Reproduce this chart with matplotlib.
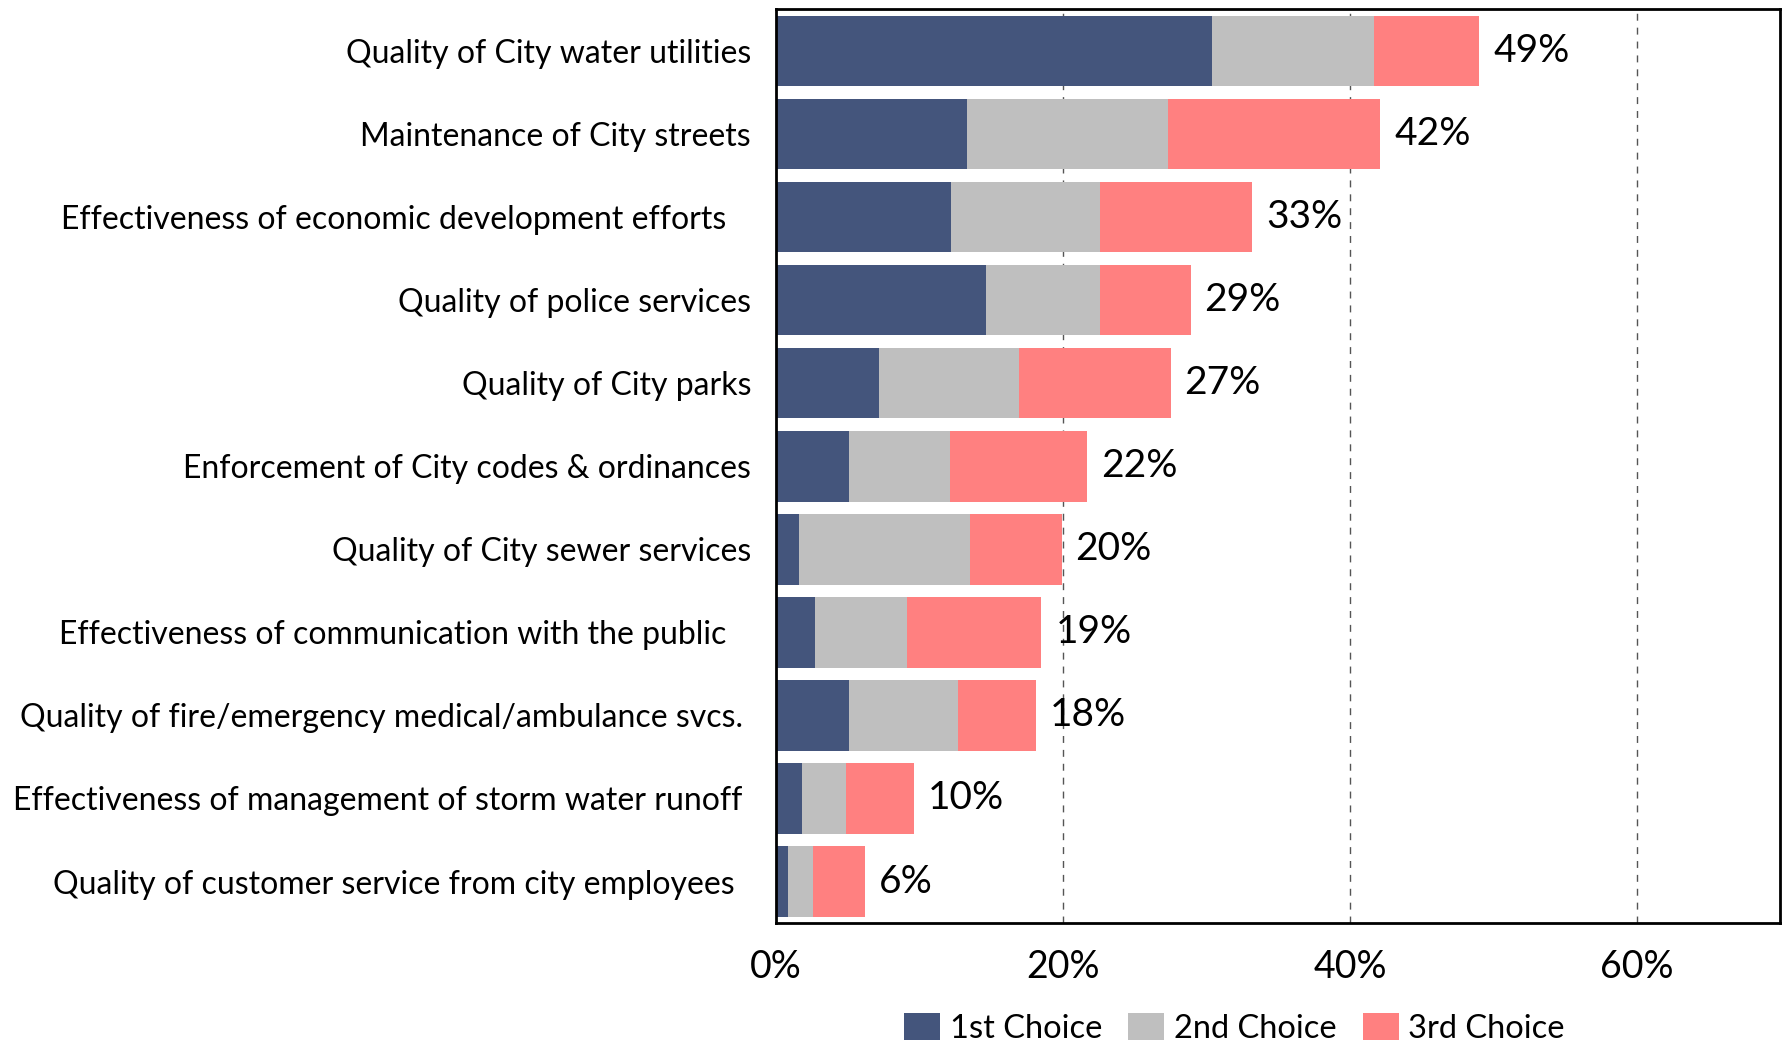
import matplotlib
matplotlib.use("Agg")
import matplotlib.pyplot as plt
import numpy as np

plt.rcParams['font.family'] = ['Lato', 'DejaVu Sans']

categories = [
    "Quality of City water utilities",
    "Maintenance of City streets",
    "Effectiveness of economic development efforts",
    "Quality of police services",
    "Quality of City parks",
    "Enforcement of City codes & ordinances",
    "Quality of City sewer services",
    "Effectiveness of communication with the public",
    "Quality of fire/emergency medical/ambulance svcs.",
    "Effectiveness of management of storm water runoff",
    "Quality of customer service from city employees",
]
first_choice = [30.4, 13.3, 12.2, 14.6, 7.2, 5.1, 1.6, 2.7, 5.1, 1.8, 0.8]
second_choice = [11.3, 14.0, 10.4, 8.0, 9.7, 7.0, 11.9, 6.4, 7.6, 3.1, 1.8]
third_choice = [7.3, 14.8, 10.6, 6.3, 10.6, 9.6, 6.4, 9.4, 5.4, 4.7, 3.6]
total_labels = ["49%", "42%", "33%", "29%", "27%", "22%", "20%", "19%", "18%", "10%", "6%"]
series_names = ["1st Choice", "2nd Choice", "3rd Choice"]
x_ticks = [0, 20, 40, 60]

# styling
colors = ["#44557C", "#BFBFBF", "#FF8080"]
label_pads = [18, 18, 36, 18, 18, 18, 18, 36, 24, 24, 30]

fig = plt.figure(figsize=(17.84, 10.43), dpi=100)
ax = fig.add_axes([0.435, 0.115, 0.563, 0.876])

y = np.arange(len(categories))
left = np.zeros(len(categories))
containers = []
for vals, name, c in zip([first_choice, second_choice, third_choice], series_names, colors):
    bars = ax.barh(y, vals, left=left, height=0.85, color=c, label=name, zorder=2)
    containers.append(bars)
    left = left + np.array(vals)

ax.bar_label(containers[-1], labels=total_labels, padding=10, fontsize=28, color="black")

ax.set_ylim(len(categories) - 0.5, -0.5)
ax.set_xlim(0, 70)
ax.set_yticks(y)
ax.set_yticklabels(categories, fontsize=23)
for tick, pad in zip(ax.yaxis.get_major_ticks(), label_pads):
    tick.set_pad(pad)
ax.tick_params(axis="y", length=0)

ax.set_xticks(x_ticks)
ax.set_xticklabels([f"{v}%" for v in x_ticks], fontsize=27)
ax.tick_params(axis="x", length=0, pad=19)

for v in x_ticks[1:]:
    ax.axvline(v, color="#555555", linestyle=(0, (5, 5)), linewidth=1, zorder=1)

for s in ax.spines.values():
    s.set_color("black")
    s.set_linewidth(2)

fig.legend(loc="center", bbox_to_anchor=(0.692, 0.014), ncol=3, frameon=False,
           fontsize=23.5, handlelength=1.1, handleheight=0.9, handletextpad=0.3,
           columnspacing=0.8)

fig.savefig("out.png", dpi=100)
